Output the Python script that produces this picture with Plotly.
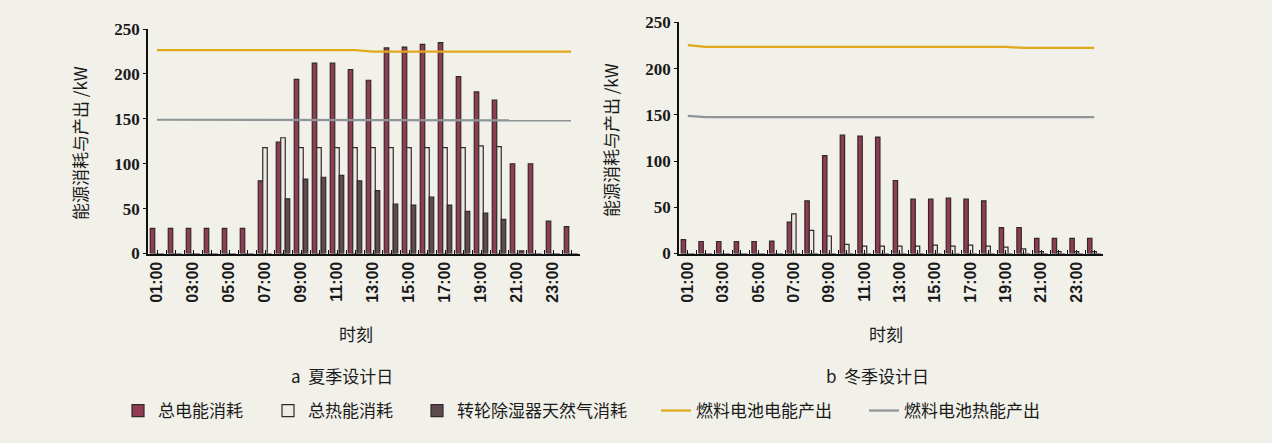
import plotly.graph_objects as go

# ---------------- data ----------------
hours = list(range(1, 25))
hour_labels = [f"{h:02d}:00" for h in hours]
tick_text = [lab if h % 2 == 1 else "" for h, lab in zip(hours, hour_labels)]

summer_elec = [28, 28, 28, 28, 28, 28, 81, 124, 194, 212, 212, 205, 193, 229,
               230, 233, 235, 197, 180, 171, 100, 100, 36, 30]
summer_heat = [0, 0, 0, 0, 0, 0, 118, 129, 118, 118, 118, 118, 118, 118,
               118, 118, 118, 118, 120, 119, 0, 0, 0, 0]
summer_gas = [0, 0, 0, 0, 0, 0, 0, 61, 83, 85, 87, 81, 70, 55,
              54, 63, 54, 47, 45, 38, 3, 0, 0, 0]
summer_fc_elec = [226.5] * 12 + [224.8] * 12
summer_fc_heat = [149] * 12 + [148.3] * 12

winter_elec = [15, 13, 13, 13, 13, 13.5, 34, 57, 106, 128, 127, 126, 79, 59,
               59, 60, 59, 57, 28, 28, 16.5, 16.5, 16.5, 16.5]
winter_heat = [0, 0, 0, 0, 0, 0, 43, 25, 19, 10, 8, 8, 8, 8,
               9, 8, 9, 8, 7, 5, 2, 2, 2, 2]
winter_gas = [0] * 24
winter_fc_elec = [225.5] + [223.5] * 18 + [222.5] * 5
winter_fc_heat = [149] + [147.6] * 23

names = ["总电能消耗", "总热能消耗", "转轮除湿器天然气消耗", "燃料电池电能产出", "燃料电池热能产出"]
y_title = "能源消耗与产出 /kW"
x_title = "时刻"
panel_titles = ["a  夏季设计日", "b  冬季设计日"]

# ---------------- style ----------------
W, H = 1272, 443
BG = "#f1f0e9"
EDGE = "#33282b"
C_ELEC = "#8f3d55"
C_HEAT = "#ecebe5"
C_GAS = "#5e4b50"
C_FC_E = "#e0a81a"
C_FC_H = "#8e9596"
TXT = "#1a1a1a"
CJK = "Noto Sans CJK SC"

fig = go.Figure()

panels = [
    ("x", "y", summer_elec, summer_heat, summer_gas, summer_fc_elec, summer_fc_heat, True),
    ("x2", "y2", winter_elec, winter_heat, winter_gas, winter_fc_elec, winter_fc_heat, False),
]
legends = ["legend", "legend2", "legend3", "legend4", "legend5"]

for xa, ya, el, ht, gs, fe, fh, show in panels:
    for i, (vals, col) in enumerate([(el, C_ELEC), (ht, C_HEAT), (gs, C_GAS)]):
        fig.add_trace(go.Bar(
            x=hours, y=vals, name=names[i], xaxis=xa, yaxis=ya,
            marker=dict(color=col, line=dict(color=EDGE, width=1.2)),
            showlegend=show, legend=legends[i], legendgroup=names[i],
        ))
    for j, (vals, col) in enumerate([(fe, C_FC_E), (fh, C_FC_H)]):
        fig.add_trace(go.Scatter(
            x=hours, y=vals, name=names[3 + j], mode="lines", xaxis=xa, yaxis=ya,
            line=dict(color=col, width=2.2),
            showlegend=show, legend=legends[3 + j], legendgroup=names[3 + j],
        ))

def px_x(p):
    return p / W

def px_y(p):
    return (H - p) / H

xaxis_common = dict(
    range=[0.5, 24.5], tickmode="array", tickvals=hours, ticktext=tick_text,
    tickangle=-90, ticks="inside", ticklen=4, tickcolor="#111",
    showline=True, linecolor="#111", linewidth=1.6, showgrid=False, zeroline=False,
    tickfont=dict(family="Liberation Sans", size=16, color=TXT, weight="bold"),
    minor=dict(ticks="inside", tick0=0.5, dtick=1, ticklen=4, tickcolor="#111"),
)
yaxis_common = dict(
    range=[0, 250], tickmode="array", tickvals=[0, 50, 100, 150, 200, 250],
    ticks="outside", ticklen=3, tickcolor="#111",
    showline=True, linecolor="#111", linewidth=1.6, showgrid=False, zeroline=False,
    tickfont=dict(family="Liberation Serif", size=17, color=TXT, weight="bold"),
)

fig.update_layout(
    width=W, height=H, margin=dict(l=0, r=0, t=0, b=0),
    paper_bgcolor=BG, plot_bgcolor=BG,
    barmode="group", bargap=0.25, bargroupgap=0,
    xaxis=dict(xaxis_common, domain=[px_x(148), px_x(580)], anchor="y"),
    yaxis=dict(yaxis_common, domain=[px_y(255.5), px_y(21)], anchor="x"),
    xaxis2=dict(xaxis_common, domain=[px_x(679), px_x(1103)], anchor="y2"),
    yaxis2=dict(yaxis_common, domain=[px_y(255.5), px_y(14)], anchor="x2"),
    font=dict(family=CJK, color=TXT),
)

leg_x = [118, 268, 417, 656, 864]
leg_common = dict(orientation="h", y=px_y(420), yanchor="middle", xanchor="left",
                  bgcolor="rgba(0,0,0,0)", font=dict(family=CJK, size=17, color=TXT),
                  itemwidth=30)
fig.update_layout(
    legend=dict(leg_common, x=px_x(leg_x[0])),
    legend2=dict(leg_common, x=px_x(leg_x[1])),
    legend3=dict(leg_common, x=px_x(leg_x[2])),
    legend4=dict(leg_common, x=px_x(leg_x[3])),
    legend5=dict(leg_common, x=px_x(leg_x[4])),
)

annos = [
    dict(text=x_title, x=px_x(356), y=px_y(339)),
    dict(text=x_title, x=px_x(886), y=px_y(339)),
    dict(text=panel_titles[0], x=px_x(342), y=px_y(383)),
    dict(text=panel_titles[1], x=px_x(877), y=px_y(383)),
    dict(text=y_title, x=px_x(80), y=px_y(140), textangle=-90),
    dict(text=y_title, x=px_x(610), y=px_y(137), textangle=-90),
]
for a in annos:
    fig.add_annotation(xref="paper", yref="paper", showarrow=False,
                       xanchor="center", yanchor="middle",
                       font=dict(family=CJK, size=17, color=TXT), **a)

fig.write_html("out.html")
